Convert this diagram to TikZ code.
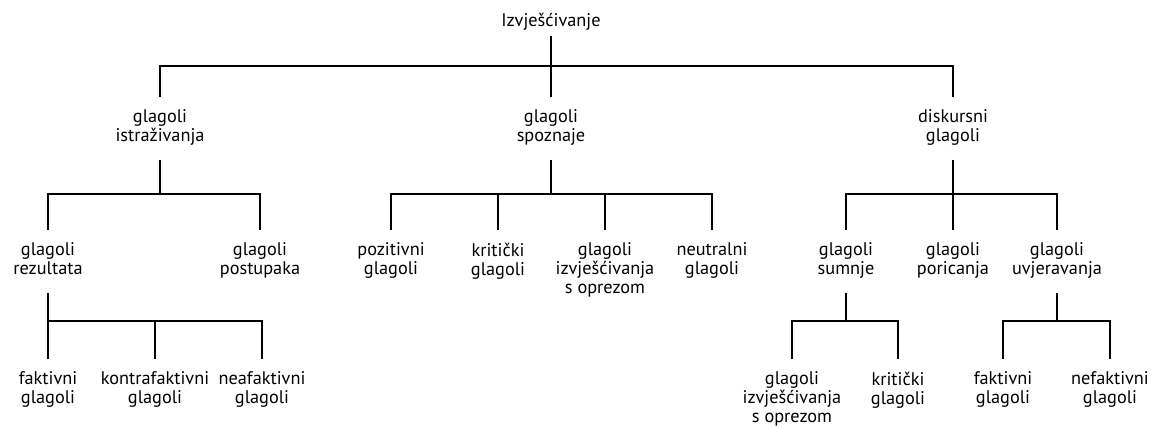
\documentclass[tikz,border=0pt]{standalone}
\usepackage{fontspec}
\setmainfont{PT Sans}
\tikzset{
    lbl/.style={align=center, inner sep=0pt, outer ysep=9pt, anchor=north,
        font=\fontsize{13}{13.5}\selectfont,
        execute at begin node=\strut, execute at end node=\strut},
    edge/.style={line width=2pt}
}

\begin{document}
\begin{tikzpicture}[x=0.025cm, y=-0.025cm]
    \useasboundingbox (0,0) rectangle (1159,427);
    % root and first level
    \node[lbl, outer ysep=3pt] (root) at (551,8.5) {Izvješćivanje};
    \node[lbl] (istr) at (160,97) {glagoli\\istraživanja};
    \node[lbl] (spoz) at (551,97) {glagoli\\spoznaje};
    \node[lbl] (disk) at (953,97) {diskursni\\glagoli};
    % second level
    \node[lbl] (rez) at (48,230) {glagoli\\rezultata};
    \node[lbl] (post) at (260,230) {glagoli\\postupaka};
    \node[lbl] (pozi) at (391,230) {pozitivni\\glagoli};
    \node[lbl] (krit1) at (498,230) {kritički\\glagoli};
    \node[lbl] (opr1) at (605,230) {glagoli\\izvješćivanja\\s oprezom};
    \node[lbl] (neut) at (712,230) {neutralni\\glagoli};
    \node[lbl] (sumn) at (846,230) {glagoli\\sumnje};
    \node[lbl] (poric) at (953,230) {glagoli\\poricanja};
    \node[lbl] (uvj) at (1057,230) {glagoli\\uvjeravanja};
    % third level
    \node[lbl] (fakt1) at (48,359) {faktivni\\glagoli};
    \node[lbl] (kontra) at (155,359) {kontrafaktivni\\glagoli};
    \node[lbl] (neaf) at (262,359) {neafaktivni\\glagoli};
    \node[lbl] (opr2) at (792,359) {glagoli\\izvješćivanja\\s oprezom};
    \node[lbl] (krit2) at (898,359) {kritički\\glagoli};
    \node[lbl] (fakt2) at (1003,359) {faktivni\\glagoli};
    \node[lbl] (nefakt) at (1110,359) {nefaktivni\\glagoli};

    \draw[edge] (root.south) -- (spoz.north);
    \draw[edge] (istr.north) -- ++(0,-31) -| (disk.north);

    \draw[edge] (istr.south) -- ++(0,34) coordinate (jistr);
    \draw[edge] (rez.north) |- (jistr) -| (post.north);

    \draw[edge] (spoz.south) -- ++(0,34) coordinate (jspoz);
    \draw[edge] (pozi.north) |- (jspoz) -| (neut.north);
    \foreach \c in {krit1, opr1}
        \draw[edge] (\c.north) -- (\c.north |- jspoz);

    \draw[edge] (disk.south) -- ++(0,34) coordinate (jdisk);
    \draw[edge] (sumn.north) |- (jdisk) -| (uvj.north);
    \draw[edge] (poric.north) -- (jdisk);

    \draw[edge] (rez.south) -- ++(0,28) coordinate (jrez);
    \draw[edge] (fakt1.north) |- (jrez) -| (neaf.north);
    \draw[edge] (kontra.north) -- (kontra.north |- jrez);

    \draw[edge] (sumn.south) -- ++(0,28) coordinate (jsumn);
    \draw[edge] (opr2.north) |- (jsumn) -| (krit2.north);

    \draw[edge] (uvj.south) -- ++(0,28) coordinate (juvj);
    \draw[edge] (fakt2.north) |- (juvj) -| (nefakt.north);
\end{tikzpicture}
\end{document}
